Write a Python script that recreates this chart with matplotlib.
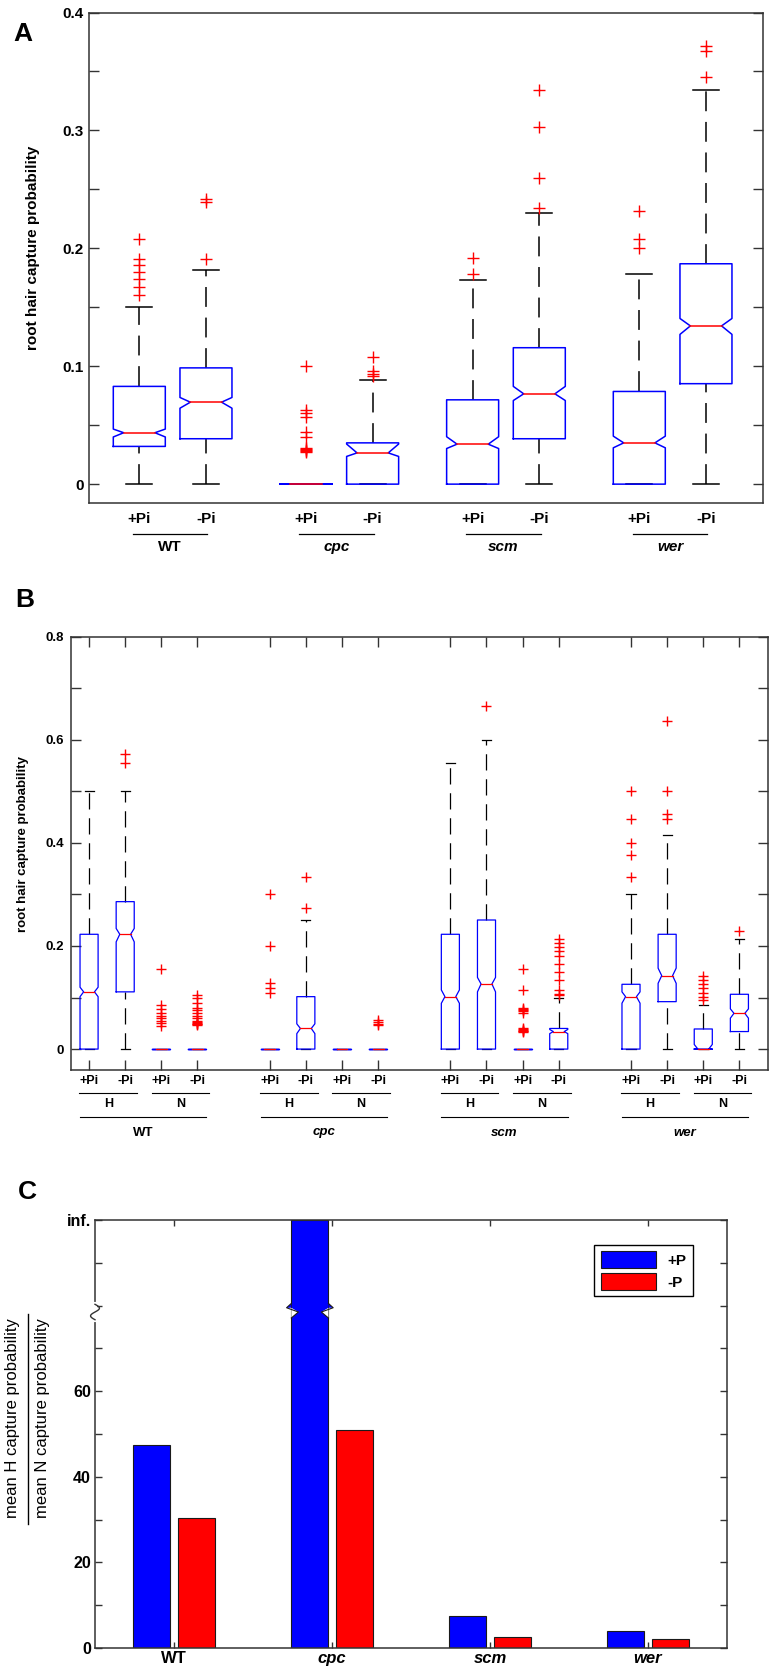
import matplotlib.pyplot as plt
import numpy as np
from matplotlib.transforms import blended_transform_factory

plt.rcParams['font.family'] = ['Liberation Sans', 'DejaVu Sans']
plt.rcParams['font.weight'] = 'bold'

W, H = 777, 1673

# ---------------- panel A: capture probability per genotype / Pi ----------------
a_groups = ['WT', 'cpc', 'scm', 'wer']
a_cond = ['+Pi', '-Pi']
a_pos = [1, 2, 3.5, 4.5, 6, 7, 8.5, 9.5]
a_lo = [0, 0, 0, 0, 0, 0, 0, 0]
a_q1 = [0.032, 0.0385, 0, 0, 0, 0.0385, 0, 0.0852]
a_med = [0.0436, 0.0695, 0, 0.0265, 0.0339, 0.0766, 0.035, 0.1342]
a_q3 = [0.0829, 0.0986, 0, 0.035, 0.0715, 0.1157, 0.0786, 0.1869]
a_hi = [0.150, 0.1818, 0, 0.0883, 0.1735, 0.2296, 0.1783, 0.3345]
a_cilo = [0.040, 0.0644, 0, 0.0235, 0.0302, 0.0709, 0.0308, 0.127]
a_cihi = [0.0467, 0.0735, 0, 0.034, 0.0402, 0.0829, 0.0407, 0.1405]
a_fliers = [
    [0.208, 0.191, 0.186, 0.180, 0.174, 0.167, 0.160],
    [0.242, 0.239, 0.191],
    [0.100, 0.063, 0.060, 0.057, 0.044, 0.040, 0.031, 0.030, 0.029, 0.028, 0.027],
    [0.1077, 0.0963, 0.0934, 0.0915],
    [0.192, 0.178],
    [0.334, 0.303, 0.260, 0.234],
    [0.2316, 0.2077, 0.2003],
    [0.3712, 0.3672, 0.345],
]

# ---------------- panel B: H / N cells ----------------
b_groups = ['WT', 'cpc', 'scm', 'wer']
b_cells = ['H', 'N']
b_pos = [1, 2, 3, 4, 6, 7, 8, 9, 11, 12, 13, 14, 16, 17, 18, 19]
b_lo = [0] * 16
b_q1 = [0, 0.111, 0, 0, 0, 0, 0, 0, 0, 0, 0, 0, 0, 0.092, 0, 0.034]
b_med = [0.111, 0.2227, 0, 0, 0, 0.04, 0, 0, 0.1017, 0.1263, 0, 0.034,
         0.1017, 0.1424, 0, 0.0694]
b_q3 = [0.2227, 0.286, 0, 0, 0, 0.1017, 0, 0, 0.2227, 0.2504, 0, 0.04,
        0.1257, 0.2227, 0.039, 0.1063]
b_hi = [0.5, 0.5, 0, 0, 0, 0.25, 0, 0, 0.5556, 0.599, 0, 0.1,
        0.3, 0.416, 0.0855, 0.213]
b_cilo = [0.1017, 0.208, 0, 0, 0, 0.03, 0, 0, 0.0888, 0.111, 0, 0.03,
          0.089, 0.1276, 0, 0.06]
b_cihi = [0.12, 0.234, 0, 0, 0, 0.049, 0, 0, 0.1147, 0.139, 0, 0.038,
          0.111, 0.157, 0.009, 0.078]
b_fliers = [
    [],
    [0.572, 0.5556],
    [0.155, 0.085, 0.078, 0.070, 0.065, 0.060, 0.055, 0.050, 0.045],
    [0.105, 0.100, 0.090, 0.080, 0.075, 0.070, 0.065, 0.060, 0.055, 0.052,
     0.050, 0.049, 0.048, 0.046],
    [0.300, 0.200, 0.128, 0.118, 0.108],
    [0.334, 0.273],
    [],
    [0.057, 0.052, 0.049, 0.046],
    [],
    [0.666],
    [0.155, 0.115, 0.080, 0.077, 0.075, 0.073, 0.070, 0.040, 0.038, 0.037,
     0.036, 0.035, 0.034],
    [0.213, 0.205, 0.198, 0.190, 0.181, 0.165, 0.149, 0.134, 0.115, 0.107, 0.104],
    [0.500, 0.446, 0.399, 0.376, 0.333],
    [0.6365, 0.500, 0.456, 0.446],
    [0.142, 0.134, 0.126, 0.118, 0.109, 0.102, 0.095],
    [0.229],
]

# ---------------- panel C: H/N ratio ----------------
c_groups = ['WT', 'cpc', 'scm', 'wer']
c_plus = [47.5, np.inf, 7.5, 4.0]
c_minus = [30.4, 50.9, 2.6, 2.1]
c_top = 100  # where "inf." sits

SPINE = '#333333'


def add_ax(fig, l, t, r, b):
    return fig.add_axes([l / W, 1 - b / H, (r - l) / W, (b - t) / H])


def notched_box(ax, x, lo, q1, med, q3, hi, cilo, cihi, fl, width, lw, ms):
    l, r = x - width / 2, x + width / 2
    d = 0.2 * width
    cap = width / 4
    dash = (0, (13, 7))
    ax.plot([x, x], [q3, hi], color='black', lw=lw, ls=dash, zorder=2)
    ax.plot([x, x], [lo, q1], color='black', lw=lw, ls=dash, zorder=2)
    ax.plot([x - cap, x + cap], [hi, hi], color='black', lw=lw, zorder=2)
    ax.plot([x - cap, x + cap], [lo, lo], color='black', lw=lw, zorder=2)
    xs = [l, r, r, r - d, r, r, l, l, l + d, l, l]
    ys = [q1, q1, cilo, med, cihi, q3, q3, cihi, med, cilo, q1]
    ax.plot(xs, ys, color='blue', lw=lw, zorder=3)
    ax.plot([l + d, r - d], [med, med], color='red', lw=lw, zorder=4)
    if fl:
        ax.plot([x] * len(fl), fl, ls='none', marker='+', color='red',
                ms=ms, mew=1.0, zorder=4)


def style_frame(ax):
    for s in ax.spines.values():
        s.set_color(SPINE)
        s.set_linewidth(1.1)


fig = plt.figure(figsize=(W / 100, H / 100), dpi=100)

# ================= A =================
axA = add_ax(fig, 89.3, 12.5, 763.3, 503)
for i in range(8):
    notched_box(axA, a_pos[i], a_lo[i], a_q1[i], a_med[i], a_q3[i], a_hi[i],
                a_cilo[i], a_cihi[i], a_fliers[i], 0.78, 1.1, 8)
axA.set_xlim(0.25, 10.36)
axA.set_ylim(-0.016, 0.4)
yt = np.round(np.arange(0, 0.401, 0.05), 2)
axA.set_yticks(yt)
axA.set_yticklabels([f'{v:g}' if abs(v * 10 - round(v * 10)) < 1e-6 else '' for v in yt])
axA.set_xticks([])
axA.tick_params(axis='y', direction='in', length=7, width=1, right=True,
                labelsize=11, pad=4, color=SPINE)
style_frame(axA)
trA = blended_transform_factory(axA.transData, fig.transFigure)
for g in range(4):
    p1, p2 = a_pos[2 * g], a_pos[2 * g + 1]
    for p, lab in zip((p1, p2), a_cond):
        axA.text(p, 1 - 519 / H, lab, transform=trA, ha='center', va='center',
                 fontsize=11)
    c = (p1 + p2) / 2 - 0.04
    axA.plot([c - 0.56, c + 0.56], [1 - 534 / H] * 2, transform=trA,
             color='black', lw=0.9, clip_on=False)
    axA.text(c, 1 - 547 / H, a_groups[g], transform=trA, ha='center',
             va='center', fontsize=11, style='normal' if g == 0 else 'italic')
fig.text(33 / W, 1 - 248 / H, 'root hair capture probability', rotation=90,
         ha='center', va='center', fontsize=11)
fig.text(23 / W, 1 - 34 / H, 'A', fontsize=19, ha='center', va='center')

# ================= B =================
axB = add_ax(fig, 71, 636.7, 768.3, 1069.7)
for i in range(16):
    notched_box(axB, b_pos[i], b_lo[i], b_q1[i], b_med[i], b_q3[i], b_hi[i],
                b_cilo[i], b_cihi[i], b_fliers[i], 0.5, 0.9, 6.5)
axB.set_xlim(0.5, 19.8)
axB.set_ylim(-0.04, 0.8)
yt = np.round(np.arange(0, 0.801, 0.1), 1)
axB.set_yticks(yt)
axB.set_yticklabels([f'{v:g}' if round(v * 10) % 2 == 0 else '' for v in yt])
axB.set_xticks(b_pos)
axB.set_xticklabels([])
axB.tick_params(axis='both', direction='in', length=7, width=1, right=True,
                top=True, labelsize=9.5, pad=5, color=SPINE)
style_frame(axB)
trB = blended_transform_factory(axB.transData, fig.transFigure)
for g in range(4):
    ps = b_pos[4 * g:4 * g + 4]
    for k, p in enumerate(ps):
        axB.text(p, 1 - 1080.6 / H, a_cond[k % 2], transform=trB, ha='center',
                 va='center', fontsize=9)
    for j in range(2):
        c = (ps[2 * j] + ps[2 * j + 1]) / 2 + 0.03
        axB.plot([c - 0.8, c + 0.8], [1 - 1093.3 / H] * 2, transform=trB,
                 color='black', lw=0.8, clip_on=False)
        axB.text(c, 1 - 1104 / H, b_cells[j], transform=trB, ha='center',
                 va='center', fontsize=9)
    c = (ps[0] + ps[3]) / 2
    axB.plot([c - 1.75, c + 1.75], [1 - 1117 / H] * 2, transform=trB,
             color='black', lw=0.8, clip_on=False)
    axB.text(c, 1 - 1132.5 / H, b_groups[g], transform=trB, ha='center',
             va='center', fontsize=9.5, style='normal' if g == 0 else 'italic')
fig.text(23 / W, 1 - 844 / H, 'root hair capture probability', rotation=90,
         ha='center', va='center', fontsize=9.5)
fig.text(25 / W, 1 - 600 / H, 'B', fontsize=19, ha='center', va='center')

# ================= C =================
axC = add_ax(fig, 95, 1220, 727, 1648)
xc = np.arange(1, 5)
bw, off = 0.235, 0.14
plus_h = np.minimum(np.array(c_plus, dtype=float), c_top)
axC.bar(xc - off, plus_h, width=bw, color='#0000ff', edgecolor='#1a1a1a',
        lw=0.8, label='+P', zorder=2)
axC.bar(xc + off, c_minus, width=bw, color='#ff0000', edgecolor='#1a1a1a',
        lw=0.8, label='-P', zorder=2)
axC.set_xlim(0.5, 4.5)
axC.set_ylim(0, c_top)
yt = np.arange(0, 101, 10)
axC.set_yticks(yt)
axC.set_yticklabels(['inf.' if v == 100 else (f'{v}' if v <= 60 and v % 20 == 0 else '')
                     for v in yt])
axC.set_xticks(xc)
axC.set_xticklabels(c_groups)
for k, t in enumerate(axC.get_xticklabels()):
    if k > 0:
        t.set_style('italic')
axC.tick_params(axis='y', direction='in', length=5, width=1, right=True,
                labelsize=11.5, pad=3, color=SPINE)
axC.tick_params(axis='x', direction='in', length=4, width=1, top=True,
                labelsize=12, pad=2, color=SPINE)
style_frame(axC)

# break marks for the infinite bar and the y axis
y_b = 78.5
for k, v in enumerate(c_plus):
    if np.isinf(v):
        l, r = xc[k] - off - bw / 2, xc[k] - off + bw / 2
        for e, s in ((l, 1), (r, -1)):
            axC.fill([e, e + s * 0.045, e], [y_b + 1.0, y_b, y_b - 1.4],
                     color='white', zorder=3, lw=0)
            axC.fill([e, e - s * 0.03, e], [y_b + 2.0, y_b + 1.0, y_b + 1.0],
                     color='#0000ff', zorder=3, lw=0, clip_on=False)
            axC.plot([e, e - s * 0.03, e + s * 0.045, e],
                     [y_b + 2.0, y_b + 1.0, y_b, y_b - 1.4],
                     color='#1a1a1a', lw=0.8, zorder=4)
trC = blended_transform_factory(axC.transAxes, axC.transData)
axC.plot([0, 0], [y_b - 1.8, y_b + 1.8], transform=trC, color='white', lw=3,
         clip_on=False, zorder=5)
tt = np.linspace(0, 1, 40)
axC.plot(0.007 * np.sin(2 * np.pi * tt), y_b + 1.8 - 3.6 * tt, transform=trC,
         color=SPINE, lw=1.0, clip_on=False, zorder=6)

leg = axC.legend(loc='upper right', bbox_to_anchor=(0.946, 0.9416),
                 borderaxespad=0, fontsize=11, handlelength=3.6,
                 handleheight=1.3, handletextpad=0.8, borderpad=0.4,
                 labelspacing=0.35, fancybox=False, framealpha=1,
                 edgecolor='black')
leg.get_frame().set_linewidth(1.0)

fig.text(13 / W, 1 - 1418 / H, 'mean H capture probability', rotation=90,
         ha='center', va='center', fontsize=12, weight='normal')
fig.text(43 / W, 1 - 1418 / H, 'mean N capture probability', rotation=90,
         ha='center', va='center', fontsize=12, weight='normal')
fig.add_artist(plt.Line2D([27.7 / W] * 2, [1 - 1314 / H, 1 - 1524 / H],
                          color='black', lw=1.0))
fig.text(27 / W, 1 - 1192 / H, 'C', fontsize=19, ha='center', va='center')

fig.savefig('out.png', dpi=100)
